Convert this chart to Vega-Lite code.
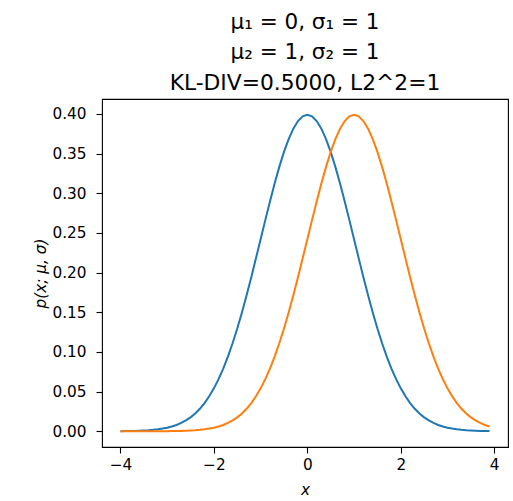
{
  "$schema": "https://vega.github.io/schema/vega-lite/v6.json",
  "autosize": {"type": "none"},
  "width": 406,
  "height": 348,
  "padding": {"left": 102, "top": 99, "right": 5, "bottom": 54},
  "background": "white",
  "config": {
    "view": {"stroke": "#000000", "strokeWidth": 1.1},
    "font": "DejaVu Sans",
    "axis": {
      "domain": false,
      "grid": false,
      "tickColor": "#000000",
      "tickSize": 6,
      "tickWidth": 1.1,
      "labelColor": "#000000",
      "labelFont": "DejaVu Sans",
      "labelFontSize": 15.3,
      "titleFont": "DejaVu Sans",
      "titleFontSize": 15.3,
      "titleFontWeight": "normal",
      "titleFontStyle": "italic",
      "titleColor": "#000000"
    }
  },
  "title": {
    "text": ["μ₁ = 0, σ₁ = 1", "μ₂ = 1, σ₂ = 1"],
    "subtitle": "KL-DIV=0.5000, L2^2=1",
    "font": "DejaVu Sans",
    "fontSize": 21.5,
    "fontWeight": "normal",
    "color": "#000000",
    "subtitleFont": "DejaVu Sans",
    "subtitleFontSize": 21.8,
    "subtitleColor": "#000000",
    "lineHeight": 30,
    "subtitleLineHeight": 30,
    "subtitlePadding": 10,
    "anchor": "middle",
    "offset": 4
  },
  "data": {
    "values": [
      {"x": -4.0, "a": 0.0001, "b": 0.0000},
      {"x": -3.9, "a": 0.0002, "b": 0.0000},
      {"x": -3.8, "a": 0.0003, "b": 0.0000},
      {"x": -3.7, "a": 0.0004, "b": 0.0000},
      {"x": -3.6, "a": 0.0006, "b": 0.0000},
      {"x": -3.5, "a": 0.0009, "b": 0.0000},
      {"x": -3.4, "a": 0.0012, "b": 0.0000},
      {"x": -3.3, "a": 0.0017, "b": 0.0000},
      {"x": -3.2, "a": 0.0024, "b": 0.0001},
      {"x": -3.1, "a": 0.0033, "b": 0.0001},
      {"x": -3.0, "a": 0.0044, "b": 0.0001},
      {"x": -2.9, "a": 0.0060, "b": 0.0002},
      {"x": -2.8, "a": 0.0079, "b": 0.0003},
      {"x": -2.7, "a": 0.0104, "b": 0.0004},
      {"x": -2.6, "a": 0.0136, "b": 0.0006},
      {"x": -2.5, "a": 0.0175, "b": 0.0009},
      {"x": -2.4, "a": 0.0224, "b": 0.0012},
      {"x": -2.3, "a": 0.0283, "b": 0.0017},
      {"x": -2.2, "a": 0.0355, "b": 0.0024},
      {"x": -2.1, "a": 0.0440, "b": 0.0033},
      {"x": -2.0, "a": 0.0540, "b": 0.0044},
      {"x": -1.9, "a": 0.0656, "b": 0.0060},
      {"x": -1.8, "a": 0.0790, "b": 0.0079},
      {"x": -1.7, "a": 0.0940, "b": 0.0104},
      {"x": -1.6, "a": 0.1109, "b": 0.0136},
      {"x": -1.5, "a": 0.1295, "b": 0.0175},
      {"x": -1.4, "a": 0.1497, "b": 0.0224},
      {"x": -1.3, "a": 0.1714, "b": 0.0283},
      {"x": -1.2, "a": 0.1942, "b": 0.0355},
      {"x": -1.1, "a": 0.2179, "b": 0.0440},
      {"x": -1.0, "a": 0.2420, "b": 0.0540},
      {"x": -0.9, "a": 0.2661, "b": 0.0656},
      {"x": -0.8, "a": 0.2897, "b": 0.0790},
      {"x": -0.7, "a": 0.3123, "b": 0.0940},
      {"x": -0.6, "a": 0.3332, "b": 0.1109},
      {"x": -0.5, "a": 0.3521, "b": 0.1295},
      {"x": -0.4, "a": 0.3683, "b": 0.1497},
      {"x": -0.3, "a": 0.3814, "b": 0.1714},
      {"x": -0.2, "a": 0.3910, "b": 0.1942},
      {"x": -0.1, "a": 0.3970, "b": 0.2179},
      {"x": 0.0, "a": 0.3989, "b": 0.2420},
      {"x": 0.1, "a": 0.3970, "b": 0.2661},
      {"x": 0.2, "a": 0.3910, "b": 0.2897},
      {"x": 0.3, "a": 0.3814, "b": 0.3123},
      {"x": 0.4, "a": 0.3683, "b": 0.3332},
      {"x": 0.5, "a": 0.3521, "b": 0.3521},
      {"x": 0.6, "a": 0.3332, "b": 0.3683},
      {"x": 0.7, "a": 0.3123, "b": 0.3814},
      {"x": 0.8, "a": 0.2897, "b": 0.3910},
      {"x": 0.9, "a": 0.2661, "b": 0.3970},
      {"x": 1.0, "a": 0.2420, "b": 0.3989},
      {"x": 1.1, "a": 0.2179, "b": 0.3970},
      {"x": 1.2, "a": 0.1942, "b": 0.3910},
      {"x": 1.3, "a": 0.1714, "b": 0.3814},
      {"x": 1.4, "a": 0.1497, "b": 0.3683},
      {"x": 1.5, "a": 0.1295, "b": 0.3521},
      {"x": 1.6, "a": 0.1109, "b": 0.3332},
      {"x": 1.7, "a": 0.0940, "b": 0.3123},
      {"x": 1.8, "a": 0.0790, "b": 0.2897},
      {"x": 1.9, "a": 0.0656, "b": 0.2661},
      {"x": 2.0, "a": 0.0540, "b": 0.2420},
      {"x": 2.1, "a": 0.0440, "b": 0.2179},
      {"x": 2.2, "a": 0.0355, "b": 0.1942},
      {"x": 2.3, "a": 0.0283, "b": 0.1714},
      {"x": 2.4, "a": 0.0224, "b": 0.1497},
      {"x": 2.5, "a": 0.0175, "b": 0.1295},
      {"x": 2.6, "a": 0.0136, "b": 0.1109},
      {"x": 2.7, "a": 0.0104, "b": 0.0940},
      {"x": 2.8, "a": 0.0079, "b": 0.0790},
      {"x": 2.9, "a": 0.0060, "b": 0.0656},
      {"x": 3.0, "a": 0.0044, "b": 0.0540},
      {"x": 3.1, "a": 0.0033, "b": 0.0440},
      {"x": 3.2, "a": 0.0024, "b": 0.0355},
      {"x": 3.3, "a": 0.0017, "b": 0.0283},
      {"x": 3.4, "a": 0.0012, "b": 0.0224},
      {"x": 3.5, "a": 0.0009, "b": 0.0175},
      {"x": 3.6, "a": 0.0006, "b": 0.0136},
      {"x": 3.7, "a": 0.0004, "b": 0.0104},
      {"x": 3.8, "a": 0.0003, "b": 0.0079},
      {"x": 3.9, "a": 0.0002, "b": 0.0060}
    ]
  },
  "encoding": {
    "x": {
      "field": "x",
      "type": "quantitative",
      "title": "x",
      "scale": {"domain": [-4.395, 4.295], "nice": false, "zero": false},
      "axis": {"values": [-4, -2, 0, 2, 4], "format": "d", "labelPadding": 4, "titlePadding": 10}
    }
  },
  "layer": [
    {
      "mark": {"type": "line", "color": "#1f77b4", "strokeWidth": 2},
      "encoding": {
        "y": {
          "field": "a",
          "type": "quantitative",
          "title": "p(x; μ, σ)",
          "scale": {"domain": [-0.0199, 0.4188], "nice": false, "zero": false},
          "axis": {"values": [0, 0.05, 0.1, 0.15, 0.2, 0.25, 0.3, 0.35, 0.4], "format": ".2f", "labelPadding": 10, "titlePadding": 3}
        }
      }
    },
    {
      "mark": {"type": "line", "color": "#ff7f0e", "strokeWidth": 2},
      "encoding": {
        "y": {"field": "b", "type": "quantitative"}
      }
    }
  ]
}
